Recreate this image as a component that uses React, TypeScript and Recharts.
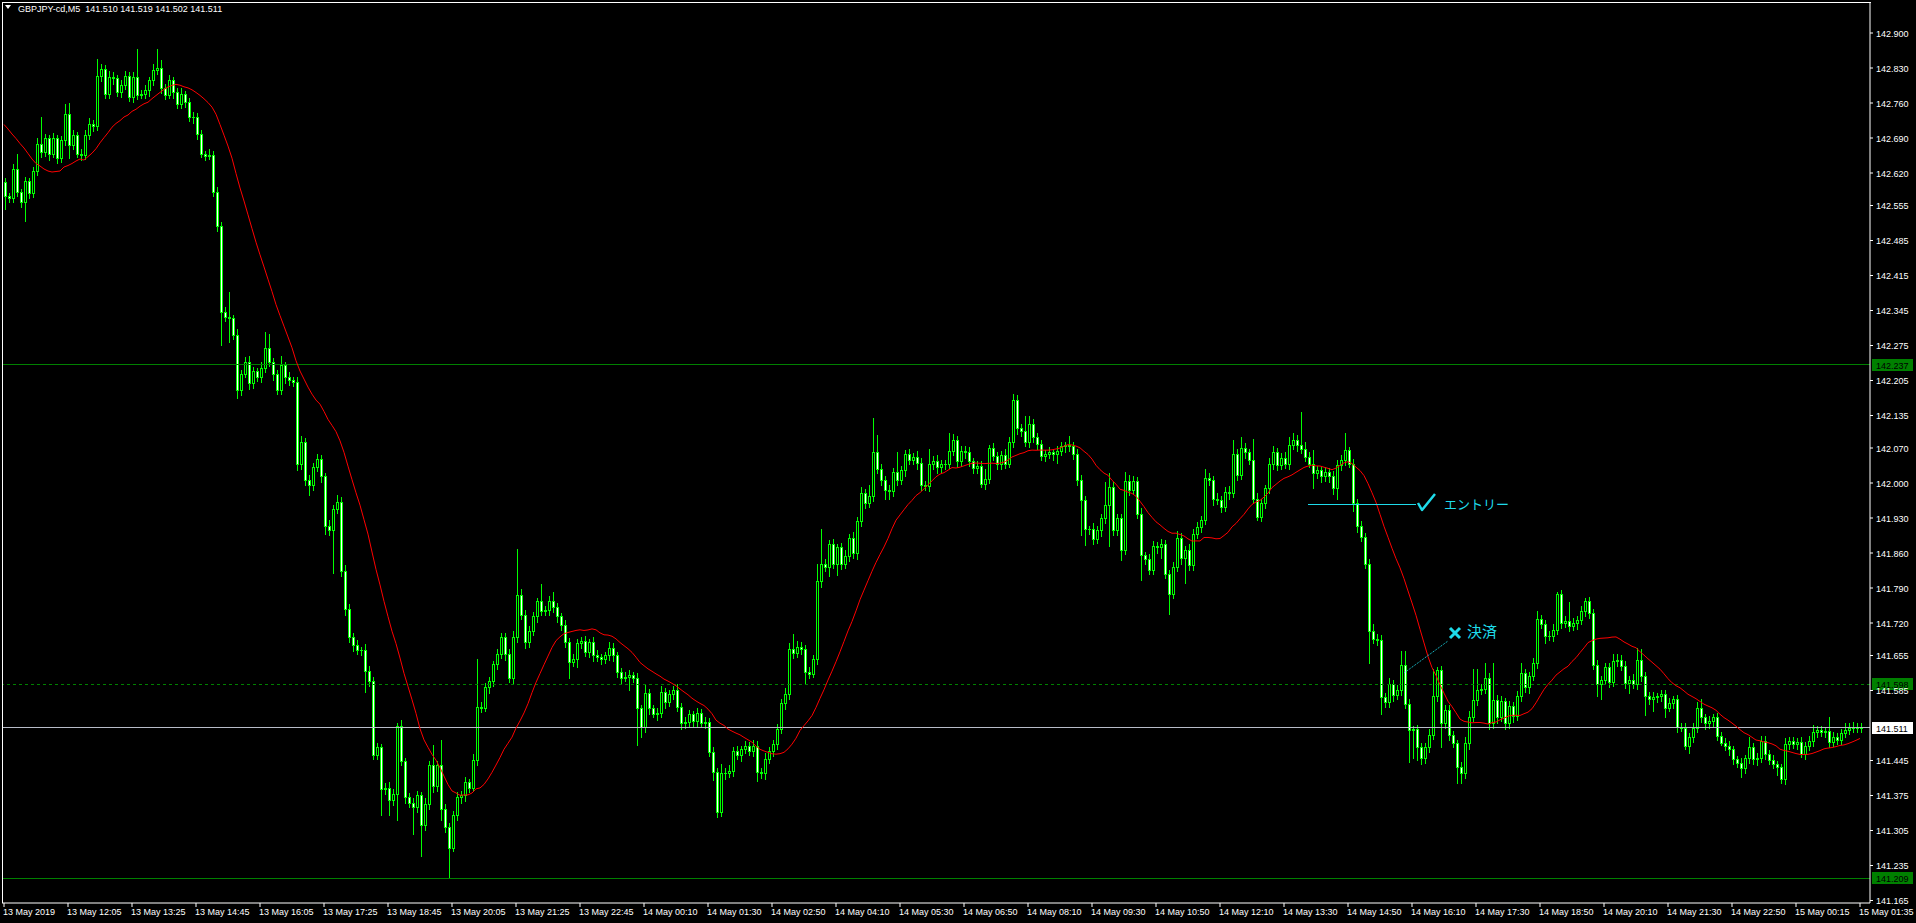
import { ComposedChart, Bar, Line, XAxis, YAxis, ReferenceLine, ReferenceDot } from 'recharts'

// prices are stored as thousandths of a yen above BASE (1573 -> 142.573)
const BASE = 141
const FIRST_OPEN = 1602

const closes = [
  1573, 1570, 1628, 1582, 1562, 1604, 1579, 1624, 1679, 1662, 1690, 1659, 1690, 1650, 1686, 1739,
  1677, 1697, 1659, 1656, 1697, 1719, 1715, 1815, 1828, 1779, 1813, 1810, 1782, 1797, 1815, 1773,
  1813, 1777, 1779, 1786, 1806, 1826, 1830, 1790, 1777, 1806, 1782, 1759, 1779, 1762, 1732, 1733,
  1698, 1659, 1655, 1656, 1582, 1515, 1343, 1332, 1329, 1297, 1186, 1219, 1242, 1199, 1224, 1211,
  1231, 1271, 1242, 1217, 1186, 1235, 1211, 1206, 1202, 1037, 1082, 1006, 995, 1033, 1048, 1013,
  915, 906, 948, 962, 824, 748, 691, 675, 666, 666, 624, 604, 457, 471, 387, 391,
  366, 379, 513, 444, 371, 360, 351, 375, 315, 357, 435, 393, 435, 348, 313, 271,
  335, 371, 375, 402, 391, 446, 553, 551, 591, 604, 637, 657, 691, 659, 611, 691,
  775, 737, 682, 704, 733, 764, 744, 746, 764, 751, 733, 715, 682, 642, 648, 679,
  684, 662, 682, 655, 651, 648, 655, 671, 655, 622, 611, 613, 616, 611, 549, 512,
  579, 549, 539, 540, 582, 562, 578, 587, 552, 519, 522, 538, 524, 540, 520, 522,
  462, 422, 342, 419, 420, 424, 464, 456, 468, 474, 464, 475, 422, 419, 448, 464,
  478, 508, 560, 578, 667, 660, 672, 668, 622, 618, 648, 804, 838, 832, 878, 839,
  871, 838, 855, 891, 859, 924, 980, 960, 975, 1062, 1029, 1006, 985, 983, 1023, 1006,
  1025, 1058, 1047, 1053, 1041, 996, 994, 1038, 1045, 1031, 1038, 1039, 1065, 1085, 1043, 1065,
  1061, 1043, 1030, 1034, 998, 1009, 1071, 1054, 1039, 1055, 1039, 1082, 1167, 1111, 1103, 1082,
  1119, 1091, 1078, 1054, 1059, 1061, 1058, 1065, 1073, 1076, 1074, 1059, 1006, 966, 907, 908,
  888, 906, 929, 956, 993, 906, 929, 866, 1004, 987, 1004, 939, 856, 847, 827, 874,
  871, 878, 819, 779, 832, 891, 851, 867, 836, 899, 912, 926, 1011, 1006, 969, 966,
  952, 982, 980, 1058, 1016, 1071, 1061, 1046, 969, 933, 959, 989, 1039, 1063, 1036, 1051,
  1039, 1076, 1087, 1076, 1069, 1053, 1039, 1019, 1025, 1013, 1022, 1013, 989, 1036, 1046, 1066,
  1039, 959, 913, 893, 839, 704, 689, 686, 572, 562, 598, 576, 586, 636, 559, 506,
  507, 472, 449, 472, 496, 574, 626, 519, 547, 496, 479, 432, 419, 479, 532, 566,
  587, 588, 611, 519, 566, 532, 564, 519, 554, 534, 574, 620, 591, 614, 640, 727,
  718, 694, 694, 707, 778, 720, 724, 714, 720, 726, 744, 764, 740, 636, 598, 607,
  631, 602, 644, 647, 634, 600, 607, 598, 647, 614, 574, 569, 572, 574, 578, 551,
  560, 567, 512, 511, 474, 491, 511, 549, 531, 520, 524, 531, 494, 480, 474, 467,
  447, 440, 429, 449, 471, 447, 451, 484, 458, 446, 438, 432, 407, 478, 484, 478,
  482, 458, 474, 484, 502, 506, 502, 504, 482, 492, 487, 500, 506, 511, 512, 510,
  511,
]

// shadow above / below the body, same units
const upperWick = [
  8, 6, 10, 31, 7, 9, 6, 8, 12, 53, 8, 6, 10, 7, 9, 20,
  22, 8, 6, 9, 10, 12, 7, 33, 10, 8, 12, 9, 6, 10, 8, 7,
  9, 55, 8, 10, 6, 12, 38, 16, 8, 10, 7, 9, 11, 6, 8, 10,
  7, 9, 6, 12, 8, 10, 7, 9, 50, 8, 11, 7, 9, 12, 8, 6,
  10, 31, 27, 8, 9, 19, 6, 10, 7, 9, 12, 8, 10, 7, 11, 9,
  8, 10, 7, 14, 9, 11, 11, 8, 10, 6, 12, 9, 8, 10, 7, 9,
  11, 8, 8, 12, 7, 9, 10, 8, 6, 12, 9, 41, 8, 50, 10, 7,
  9, 11, 8, 10, 7, 12, 95, 8, 10, 9, 7, 11, 8, 10, 9, 12,
  93, 12, 8, 10, 9, 7, 34, 8, 10, 18, 9, 7, 11, 8, 10, 9,
  8, 10, 7, 9, 11, 8, 6, 10, 9, 7, 8, 10, 9, 7, 8, 6,
  20, 9, 7, 10, 12, 8, 9, 7, 10, 8, 11, 9, 7, 10, 8, 9,
  8, 10, 7, 20, 9, 11, 8, 10, 7, 9, 8, 10, 9, 7, 11, 8,
  9, 10, 8, 12, 12, 31, 12, 9, 8, 10, 7, 35, 71, 9, 8, 10,
  7, 9, 11, 8, 10, 9, 12, 8, 20, 69, 34, 9, 8, 10, 7, 40,
  9, 8, 10, 7, 11, 9, 8, 29, 9, 10, 8, 7, 36, 14, 9, 10,
  8, 11, 7, 9, 10, 20, 5, 9, 8, 10, 12, 11, 11, 9, 8, 30,
  15, 8, 10, 9, 7, 11, 8, 9, 10, 7, 18, 9, 8, 10, 9, 7,
  11, 8, 10, 47, 26, 9, 8, 10, 19, 12, 9, 8, 10, 7, 11, 9,
  8, 10, 9, 7, 10, 14, 9, 8, 11, 9, 10, 8, 18, 9, 7, 10,
  8, 9, 12, 29, 10, 22, 9, 8, 43, 10, 9, 7, 11, 10, 8, 9,
  10, 17, 14, 9, 67, 14, 8, 27, 10, 7, 9, 8, 11, 10, 9, 35,
  6, 9, 8, 10, 7, 9, 15, 8, 10, 9, 12, 8, 10, 29, 28, 9,
  8, 10, 7, 9, 12, 55, 5, 9, 10, 8, 9, 7, 10, 12, 11, 63,
  40, 9, 28, 8, 73, 10, 9, 7, 11, 8, 10, 20, 9, 8, 9, 17,
  10, 8, 9, 11, 4, 8, 10, 38, 9, 8, 10, 5, 8, 9, 10, 7,
  9, 8, 15, 10, 8, 9, 7, 11, 22, 20, 8, 9, 10, 7, 9, 8,
  10, 7, 9, 8, 10, 9, 8, 13, 18, 8, 10, 7, 9, 8, 10, 9,
  8, 7, 9, 8, 21, 9, 8, 10, 10, 8, 9, 7, 6, 11, 9, 8,
  7, 9, 8, 10, 14, 7, 8, 6, 27, 9, 8, 7, 13, 8, 10, 7,
  8,
]

const lowerWick = [
  25, 8, 7, 9, 10, 38, 8, 7, 9, 10, 8, 12, 7, 9, 8, 10,
  27, 9, 8, 10, 7, 9, 11, 8, 10, 9, 8, 12, 7, 10, 9, 8,
  10, 9, 7, 8, 12, 9, 8, 10, 9, 7, 11, 8, 9, 10, 8, 12,
  9, 8, 10, 7, 9, 11, 67, 8, 47, 9, 16, 10, 8, 12, 9, 7,
  8, 10, 9, 11, 8, 7, 10, 9, 8, 12, 9, 10, 19, 8, 9, 11,
  17, 9, 85, 8, 10, 12, 9, 11, 8, 10, 42, 9, 9, 10, 50, 8,
  29, 10, 53, 9, 12, 8, 53, 10, 61, 9, 8, 11, 9, 22, 10, 61,
  8, 9, 10, 12, 9, 8, 10, 9, 8, 11, 9, 10, 8, 12, 9, 10,
  8, 9, 11, 10, 8, 12, 9, 8, 10, 9, 11, 8, 10, 33, 9, 16,
  10, 8, 9, 11, 8, 10, 9, 8, 12, 9, 10, 8, 26, 9, 73, 20,
  9, 10, 8, 12, 9, 11, 8, 10, 9, 12, 8, 10, 9, 11, 8, 10,
  9, 16, 10, 8, 12, 9, 10, 8, 11, 9, 8, 10, 18, 9, 11, 8,
  10, 9, 8, 12, 9, 10, 8, 11, 22, 9, 6, 10, 12, 9, 18, 8,
  23, 10, 9, 11, 8, 12, 9, 10, 8, 11, 9, 10, 18, 16, 9, 10,
  8, 11, 9, 10, 12, 9, 8, 10, 9, 11, 8, 10, 9, 8, 12, 9,
  10, 8, 11, 9, 7, 10, 9, 8, 11, 10, 9, 8, 10, 12, 9, 8,
  10, 9, 11, 8, 10, 9, 12, 17, 8, 10, 9, 11, 10, 70, 31, 9,
  10, 8, 12, 9, 82, 10, 9, 20, 8, 11, 9, 10, 50, 9, 10, 8,
  11, 20, 9, 41, 10, 8, 12, 52, 9, 10, 8, 11, 9, 10, 12, 8,
  10, 9, 11, 8, 10, 9, 12, 8, 9, 7, 10, 8, 9, 11, 10, 8,
  9, 10, 8, 11, 9, 10, 8, 30, 9, 11, 8, 10, 12, 20, 9, 10,
  8, 16, 10, 9, 10, 65, 9, 11, 33, 10, 9, 12, 8, 10, 9, 64,
  55, 26, 10, 9, 11, 8, 10, 47, 9, 10, 8, 32, 20, 9, 11, 8,
  10, 9, 8, 10, 9, 11, 8, 10, 9, 12, 8, 10, 9, 11, 8, 10,
  9, 15, 8, 10, 9, 11, 8, 10, 9, 12, 8, 10, 9, 8, 24, 29,
  10, 9, 8, 11, 9, 10, 21, 8, 10, 9, 38, 11, 26, 9, 10, 19,
  8, 10, 9, 6, 5, 15, 9, 10, 8, 11, 9, 10, 8, 4, 9, 10,
  8, 9, 18, 10, 9, 8, 11, 9, 10, 8, 9, 16, 7, 9, 10, 8,
  9, 6, 10, 8, 9, 10, 8, 9, 11, 8, 9, 10, 8, 9, 10, 8,
  8,
]

// MA(21) for the first bars (their history is off-screen)
const maHead = [
  1717, 1708, 1698, 1689, 1679, 1670, 1659, 1648, 1639, 1634,
  1628, 1624, 1622, 1623, 1624, 1632, 1635, 1639, 1644, 1648,
]
const MA_PERIOD = 21

const timeLabels = [
  '13 May 2019', '13 May 12:05', '13 May 13:25', '13 May 14:45', '13 May 16:05',
  '13 May 17:25', '13 May 18:45', '13 May 20:05', '13 May 21:25', '13 May 22:45',
  '14 May 00:10', '14 May 01:30', '14 May 02:50', '14 May 04:10', '14 May 05:30',
  '14 May 06:50', '14 May 08:10', '14 May 09:30', '14 May 10:50', '14 May 12:10',
  '14 May 13:30', '14 May 14:50', '14 May 16:10', '14 May 17:30', '14 May 18:50',
  '14 May 20:10', '14 May 21:30', '14 May 22:50', '15 May 00:15', '15 May 01:35',
]
const LABEL_EVERY = 16

const priceTicks = [
  142.9, 142.83, 142.76, 142.69, 142.62, 142.555, 142.485, 142.415, 142.345, 142.275,
  142.205, 142.135, 142.07, 142.0, 141.93, 141.86, 141.79, 141.72, 141.655, 141.585,
  141.445, 141.375, 141.305, 141.235, 141.165,
]

const upperLevel = 142.237
const midLevel = 141.598
const bidLevel = 141.511
const lowerLevel = 141.209

const entryPrice = 141.958
const entryFrom = 326
const entryTo = 353
const exitFrom = { bar: 350, price: 141.62 }
const exitTo = { bar: 361, price: 141.684 }

const header = 'GBPJPY-cd,M5  141.510 141.519 141.502 141.511'

const FONT = '"Liberation Sans", Arial, sans-serif'
const JP_FONT = '"Noto Sans CJK JP", sans-serif'
const CYAN = '#1edbea'
const LIME = '#00ff00'

const px = (v: number) => BASE + v / 1000

const data = closes.map((c, i) => {
  const o = i === 0 ? FIRST_OPEN : closes[i - 1]
  const hi = Math.max(o, c) + (upperWick[i] ?? 6)
  const lo = Math.min(o, c) - (lowerWick[i] ?? 6)
  let ma: number
  if (i < maHead.length) ma = maHead[i]
  else {
    let s = 0
    for (let k = i - MA_PERIOD + 1; k <= i; k++) s += closes[k]
    ma = s / MA_PERIOD
  }
  return {
    i,
    open: px(o),
    close: px(c),
    high: px(hi),
    low: px(lo),
    range: [px(lo), px(hi)],
    ma: px(ma),
  }
})

function Candle(props: any) {
  const { x, y, width, height, payload } = props
  if (!payload) return null
  const { open, close, high, low } = payload
  const span = high - low
  const k = span > 0 ? height / span : 0
  const py = (p: number) => Math.round(y + (high - p) * k)
  const x0 = Math.round(x + width / 2) - 1
  const yh = Math.round(y)
  const yl = Math.round(y + height)
  const top = py(Math.max(open, close))
  const bot = py(Math.min(open, close))
  const bull = close >= open
  return (
    <g shapeRendering="crispEdges">
      <rect x={x0 + 1} y={yh} width={1} height={Math.max(1, yl - yh + 1)} fill={LIME} />
      <rect x={x0} y={top} width={3} height={Math.max(1, bot - top + 1)} fill={LIME} />
      {bot - top >= 2 && (
        <rect x={x0 + 1} y={top + 1} width={1} height={bot - top - 1} fill={bull ? '#000' : '#fff'} />
      )}
    </g>
  )
}

function TimeTick(props: any) {
  const { x, y, payload } = props
  const label = timeLabels[Math.round(payload.value / LABEL_EVERY)]
  return (
    <text x={x - 1} y={y} dy={6} fill="#fff" fontSize={9} fontFamily={FONT}>
      {label}
    </text>
  )
}

function PriceTick(props: any) {
  const { x, y, payload } = props
  return (
    <text x={x} y={y} dy={3.5} fill="#fff" fontSize={9} fontFamily={FONT} textAnchor="start">
      {Number(payload.value).toFixed(3)}
    </text>
  )
}

function PriceTag(props: any) {
  const { viewBox, text, bg, fg } = props
  if (!viewBox) return null
  const yy = Math.round(viewBox.y)
  const xx = Math.round(viewBox.x + viewBox.width) + 2
  return (
    <g>
      <rect x={xx} y={yy - 6} width={41} height={12} fill={bg} shapeRendering="crispEdges" />
      <text x={xx + 4} y={yy + 3.5} fill={fg} fontSize={9} fontFamily={FONT}>
        {text}
      </text>
    </g>
  )
}

function EntryMark(props: any) {
  const { cx, cy } = props
  return (
    <g>
      <path
        d={`M${cx - 2} ${cy - 1} L${cx + 2} ${cy + 6} L${cx + 15} ${cy - 10}`}
        stroke={CYAN}
        strokeWidth={2.5}
        fill="none"
        strokeLinejoin="round"
      />
      <text x={cx + 24} y={cy + 5} fill={CYAN} fontSize={13} fontFamily={JP_FONT}>
        エントリー
      </text>
    </g>
  )
}

function ExitMark(props: any) {
  const { cx, cy } = props
  const mx = cx + 7
  const my = cy - 8
  return (
    <g>
      <path
        d={`M${mx - 5} ${my - 5} L${mx + 5} ${my + 5} M${mx + 5} ${my - 5} L${mx - 5} ${my + 5}`}
        stroke={CYAN}
        strokeWidth={3}
      />
      <text x={cx + 19} y={cy - 4} fill={CYAN} fontSize={15} fontFamily={JP_FONT}>
        決済
      </text>
    </g>
  )
}

export default function App() {
  return (
    <div style={{ position: 'relative', width: 1916, height: 923, background: '#000', overflow: 'hidden' }}>
      <style>{'body{margin:0;background:#000}'}</style>
      <ComposedChart
        width={1916}
        height={923}
        data={data}
        margin={{ top: 3, right: 0, bottom: 0, left: 2 }}
      >
        <XAxis
          dataKey="i"
          type="category"
          interval={LABEL_EVERY - 1}
          padding={{ left: 0, right: 8 }}
          height={20}
          tickSize={4}
          tickMargin={2}
          axisLine={{ stroke: '#fff' }}
          tickLine={{ stroke: '#fff' }}
          tick={<TimeTick />}
        />
        <YAxis
          orientation="right"
          type="number"
          domain={[141.16, 142.96]}
          allowDataOverflow
          ticks={priceTicks}
          interval={0}
          width={46}
          tickSize={3}
          tickMargin={3}
          axisLine={{ stroke: '#fff' }}
          tickLine={{ stroke: '#fff' }}
          tick={<PriceTick />}
        />
        <ReferenceLine
          y={upperLevel}
          stroke="#008000"
          shapeRendering="crispEdges"
          label={<PriceTag text={upperLevel.toFixed(3)} bg="#008000" fg="#000" />}
        />
        <ReferenceLine
          y={midLevel}
          stroke="#008000"
          strokeDasharray="3 3"
          shapeRendering="crispEdges"
          label={<PriceTag text={midLevel.toFixed(3)} bg="#008000" fg="#000" />}
        />
        <ReferenceLine
          y={bidLevel}
          stroke="#b8bcc8"
          shapeRendering="crispEdges"
          label={<PriceTag text={bidLevel.toFixed(3)} bg="#fff" fg="#000" />}
        />
        <ReferenceLine
          y={lowerLevel}
          stroke="#008000"
          shapeRendering="crispEdges"
          label={<PriceTag text={lowerLevel.toFixed(3)} bg="#008000" fg="#000" />}
        />
        <Bar dataKey="range" barSize={3} shape={<Candle />} isAnimationActive={false} />
        <Line
          dataKey="ma"
          type="linear"
          stroke="#ff0000"
          strokeWidth={1}
          dot={false}
          activeDot={false}
          isAnimationActive={false}
        />
        <ReferenceLine
          segment={[
            { x: entryFrom, y: entryPrice },
            { x: entryTo, y: entryPrice },
          ]}
          stroke={CYAN}
          strokeWidth={1}
          shapeRendering="crispEdges"
        />
        <ReferenceLine
          segment={[
            { x: exitFrom.bar, y: exitFrom.price },
            { x: exitTo.bar, y: exitTo.price },
          ]}
          stroke={CYAN}
          strokeWidth={1}
          strokeDasharray="1 1"
        />
        <ReferenceDot x={entryTo + 1} y={entryPrice} r={0} shape={<EntryMark />} />
        <ReferenceDot x={exitTo.bar} y={exitTo.price} r={0} shape={<ExitMark />} />
      </ComposedChart>
      <div style={{ position: 'absolute', left: 2, top: 2, width: 1869, height: 1, background: '#fff' }} />
      <div style={{ position: 'absolute', left: 2, top: 2, width: 1, height: 901, background: '#fff' }} />
      <div
        style={{
          position: 'absolute',
          left: 5,
          top: 5,
          width: 0,
          height: 0,
          borderLeft: '3.5px solid transparent',
          borderRight: '3.5px solid transparent',
          borderTop: '4px solid #fff',
        }}
      />
      <div
        style={{
          position: 'absolute',
          left: 18,
          top: 3,
          color: '#fff',
          fontSize: 9,
          fontFamily: FONT,
          whiteSpace: 'pre',
          lineHeight: '12px',
        }}
      >
        {header}
      </div>
    </div>
  )
}
